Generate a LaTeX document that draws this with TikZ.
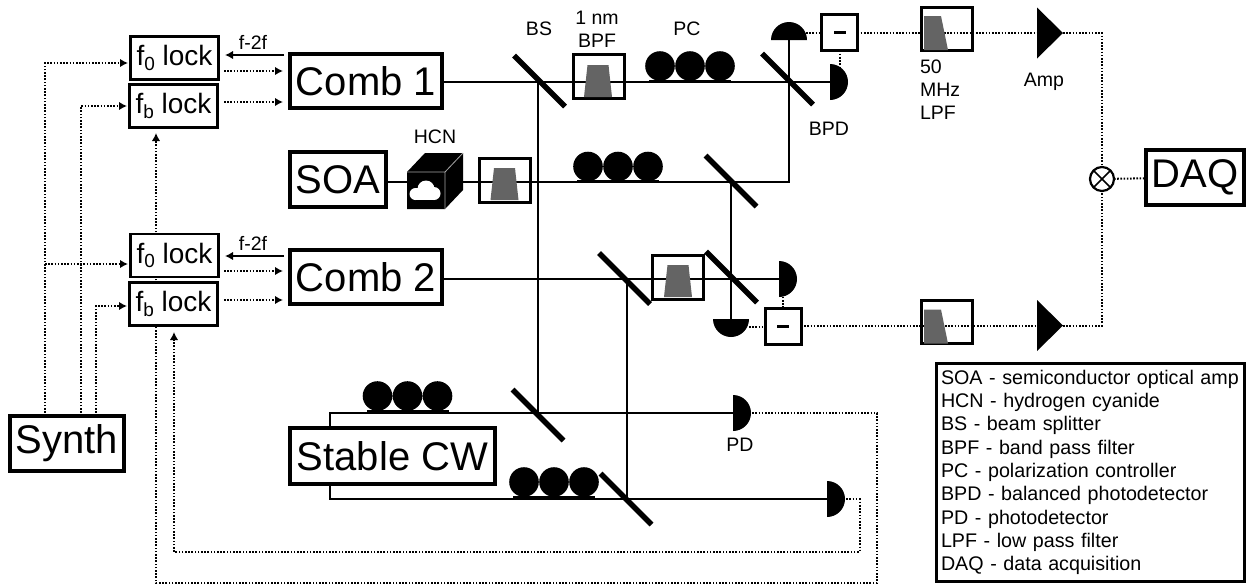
\documentclass[tikz,border=0pt]{standalone}
\usepackage{fontspec}
\setmainfont{Liberation Sans}
\usetikzlibrary{arrows.meta,backgrounds,calc}
\newcommand{\sbt}[1]{\raisebox{-0.17em}{\fontsize{19}{20}\selectfont #1}}
\definecolor{filtgray}{HTML}{646464}
\tikzset{
  big/.style={draw,line width=4pt,fill=white,inner sep=0pt,outer sep=0pt,font=\fontsize{40}{44}\selectfont},
  lockbox/.style={draw,line width=2.2pt,fill=white,inner sep=0pt,outer sep=0pt,minimum width=88pt,minimum height=43pt,font=\fontsize{28}{30}\selectfont},
  lbl/.style={inner sep=0pt,outer sep=0pt,font=\fontsize{19.5}{23}\selectfont,align=center},
  filt/.style={draw,line width=3pt,inner sep=0pt,outer sep=0pt,minimum width=51pt,minimum height=44pt},
  sub/.style={draw,line width=3pt,fill=white,inner sep=0pt,outer sep=0pt,minimum width=36pt,minimum height=36pt},
  beam/.style={line width=1.7pt,black},
  dot/.style={line width=2pt,dash pattern=on 1.6pt off 1.6pt},
  tip/.style={-{Latex[length=8pt,width=8.5pt]}},
  hd/.pic={\fill (0,-18) .. controls (9.94,-18) and (18,-9.94) .. (18,0) .. controls (18,9.94) and (9.94,18) .. (0,18) -- cycle;},
  bsp/.pic={\draw[line width=5.5pt] (-25.5,-25.5) -- (25.5,25.5);},
  pcs/.pic={\fill (-30,-15) circle[radius=14.8] (0,-15) circle[radius=14.8] (30,-15) circle[radius=14.8];
            \fill (-41,-1.5) rectangle (41,1);},
  trap/.pic={\fill[filtgray] (-14,16) -- (-10.5,-16) -- (10.5,-16) -- (14,16) -- cycle;},
  lowp/.pic={\fill[filtgray] (-24,17) -- (-24,-17) -- (-7,-17) -- (0,17) -- cycle;},
  minus/.pic={\fill (-6,-1.5) rectangle (6,1.5);},
  amp/.pic={\fill (0,-25.5) -- (26,0) -- (0,25.5) -- cycle;}
}
\begin{document}
\begin{tikzpicture}[x=1pt,y=-1pt]
\useasboundingbox (0,0) rectangle (1248,584);
% boxes
\node[lockbox] (f01) at (174.5,58) {f\sbt{0} lock};
\node[lockbox] (fb1) at (173.5,106) {f\sbt{b} lock};
\node[lockbox] (f02) at (174.5,255.5) {f\sbt{0} lock};
\node[lockbox] (fb2) at (173.5,304) {f\sbt{b} lock};
\node[big,minimum width=152pt,minimum height=54pt] (comb1) at (366,81) {Comb 1};
\node[big,minimum width=152pt,minimum height=54pt] (comb2) at (366,277) {Comb 2};
\node[big,minimum width=96pt,minimum height=55pt] (soa) at (338,179.5) {SOA};
\node[big,minimum width=114pt,minimum height=55pt] (synth) at (67,443.5) {Synth};
\node[big,minimum width=205pt,minimum height=56pt] (cw) at (392.5,456) {Stable CW};
\node[big,minimum width=98pt,minimum height=55pt] (daq) at (1195,177.5) {DAQ};
% filters
\node[filt] (bpf1) at (598.5,76.5) {};
\node[filt] (bpf2) at (504.5,180) {};
\node[filt] (bpf3) at (678,277) {};
\node[filt,minimum height=43pt] (lpf1) at (947,29) {};
\node[filt,minimum height=43pt] (lpf2) at (947,322) {};
\node[sub] (sub1) at (839.5,32.5) {};
\node[sub] (sub2) at (783,326) {};
\path (sub1) pic {minus};
\path (sub2) pic {minus};
\path (598,81) pic {trap};
\path (504.5,184) pic {trap};
\path (678,281) pic {trap};
\path (948,33) pic {lowp};
\path (948,326.5) pic {lowp};
% coordinates
\coordinate (bs1) at (539.5,81);
\coordinate (bs2) at (787.5,79);
\coordinate (bs3) at (731,181);
\coordinate (bs4) at (624.5,278.5);
\coordinate (bs5) at (731.5,277);
\coordinate (bs6) at (538,415);
\coordinate (bs7) at (626,499);
\foreach \c in {bs1,bs2,bs3,bs4,bs5,bs6,bs7} \path (\c) pic {bsp};
\path (690,81) pic {pcs};
\path (618,181.5) pic {pcs};
\path (407.5,411) pic {pcs};
\path (554,497) pic {pcs};
% detectors
\coordinate (bpdu) at (789,40);
\coordinate (bpdr) at (830,82);
\coordinate (bpdd) at (731,319);
\coordinate (bpdq) at (779,279);
\coordinate (pd1) at (733,413);
\coordinate (pd2) at (827,499);
\path (bpdu) pic[rotate=90] {hd};
\path (bpdr) pic {hd};
\path (bpdd) pic[rotate=-90] {hd};
\path (bpdq) pic {hd};
\path (pd1) pic {hd};
\path (pd2) pic {hd};
% amps and mixer
\coordinate (amp1) at (1037,33);
\coordinate (amp2) at (1037,325.5);
\path (amp1) pic {amp};
\path (amp2) pic {amp};
\coordinate (amp1o) at (1063,33);
\coordinate (amp2o) at (1063,325.5);
\node[draw,circle,line width=2.2pt,minimum size=24pt,inner sep=0pt,outer sep=0pt] (mix) at (1102,179) {};
\draw[line width=1.6pt] (mix.north west) -- (mix.south east) (mix.north east) -- (mix.south west);
% HCN cube
\fill (407,172) -- (425,153) -- (463,153) -- (463,190) -- (445,209) -- (407,209) -- cycle;
\coordinate (cubeL) at (407,182);
\coordinate (cubeR) at (463,182);
\draw[gray!70,line width=0.8pt] (407,172) -- (445,172) -- (445,209) (445,172) -- (463,153);
\fill[white] (426,189) circle[radius=8.5] (415.5,194) circle[radius=6] (434,193.5) circle[radius=6.5];
\fill[white] (415.5,188) rectangle (434,200);
% labels
\node[lbl] (t1) at (253,42) {f-2f};
\node[lbl] (t2) at (253,243) {f-2f};
\node[lbl] (tbs) at (539,29) {BS};
\node[lbl] (tbpf) at (597,29) {1 nm\\BPF};
\node[lbl] (tpc) at (687,29) {PC};
\node[lbl] (thcn) at (435,137) {HCN};
\node[lbl] (tbpd) at (829,129) {BPD};
\node[lbl,align=left,anchor=north west] (tlpf) at (920,60) {50\\MHz\\LPF};
\node[lbl] (tamp) at (1044,82) {Amp};
\node[lbl] (tpd) at (740,445) {PD};
\node[draw,line width=3pt,fill=white,inner xsep=4.5pt,inner ysep=0pt,outer sep=0pt,text width=299pt,minimum height=218pt,align=left,font=\fontsize{19.7}{23.3}\selectfont] (legend) at (1090.5,472.5)
{SOA - semiconductor optical amp\\HCN - hydrogen cyanide\\BS - beam splitter\\BPF - band pass filter\\PC - polarization controller\\BPD - balanced photodetector\\PD - photodetector\\LPF - low pass filter\\DAQ - data acquisition};
% connector ends
\coordinate (sy1) at (45,416);
\coordinate (sy2) at (81,416);
\coordinate (sy3) at (96,416);
\coordinate (in1) at (128,63);
\coordinate (in2) at (127,106);
\coordinate (in3) at (128,264);
\coordinate (in4) at (127,306);
\coordinate (o1a) at (224,71);  \coordinate (o1b) at (283,71);
\coordinate (o2a) at (224,102); \coordinate (o2b) at (283,102);
\coordinate (o3a) at (224,271); \coordinate (o3b) at (283,271);
\coordinate (o4a) at (224,300); \coordinate (o4b) at (283,300);
\coordinate (r1a) at (284,55);  \coordinate (r1b) at (225,55);
\coordinate (r2a) at (284,256); \coordinate (r2b) at (225,256);
\coordinate (cwT) at (330,428);
\coordinate (cwB) at (330,484);
\coordinate (tip1) at (156,133);
\coordinate (tip2) at (174,332);
\coordinate (loop1) at (877,583);
\coordinate (loop2) at (859.5,552);
\coordinate (d1) at (806,33);
\coordinate (d2) at (749,327);
\coordinate (v1) at (538,82);
\coordinate (v2) at (538,413);
\coordinate (v3) at (627,279);
\coordinate (v4) at (627,499);
\begin{pgfonlayer}{background}
% optical beams
\draw[beam] (comb1.east |- bpdr) -- (bpdr);
\draw[beam] (comb2.east |- bpdq) -- (bpdq);
\draw[beam] (soa.east |- cubeL) -- (cubeL);
\draw[beam] (cubeR) -| (bpdu);
\draw[beam] (v1) -- (v2);
\draw[beam] (bpdd |- cubeL) -- (bpdd);
\draw[beam] (v3) -- (v4);
\draw[beam] (cwT) |- (pd1);
\draw[beam] (cwB) |- (pd2);
% electrical
\draw[dot,tip] (sy1) |- (in1);
\draw[dot,tip] (sy1 |- in3) -- (in3);
\draw[dot,tip] (sy2) |- (in2);
\draw[dot,tip] (sy3) |- (in4);
\draw[dot,tip] (o1a) -- (o1b);
\draw[dot,tip] (o2a) -- (o2b);
\draw[dot,tip] (o3a) -- (o3b);
\draw[dot,tip] (o4a) -- (o4b);
\draw[beam,tip] (r1a) -- (r1b);
\draw[beam,tip] (r2a) -- (r2b);
\draw[dot,tip] (pd1) -- (pd1 -| loop1) |- (loop1) -| (tip1);
\draw[dot,tip] (pd2) -- (pd2 -| loop2) |- (loop2) -| (tip2);
\draw[dot] (d1) -- (sub1.west |- d1);
\draw[dot] (d2) -- (sub2.west |- d2);
\draw[dot] (sub1) -- (bpdr -| sub1);
\draw[dot] (sub2) -- (bpdq -| sub2);
\draw[dot] (sub1.east |- amp1) -- (amp1);
\draw[dot] (sub2.east |- amp2) -- (amp2);
\draw[dot] (amp1o) -| (mix);
\draw[dot] (amp2o) -| (mix);
\draw[dot] (mix) -- (daq);
\end{pgfonlayer}
\end{tikzpicture}
\end{document}
